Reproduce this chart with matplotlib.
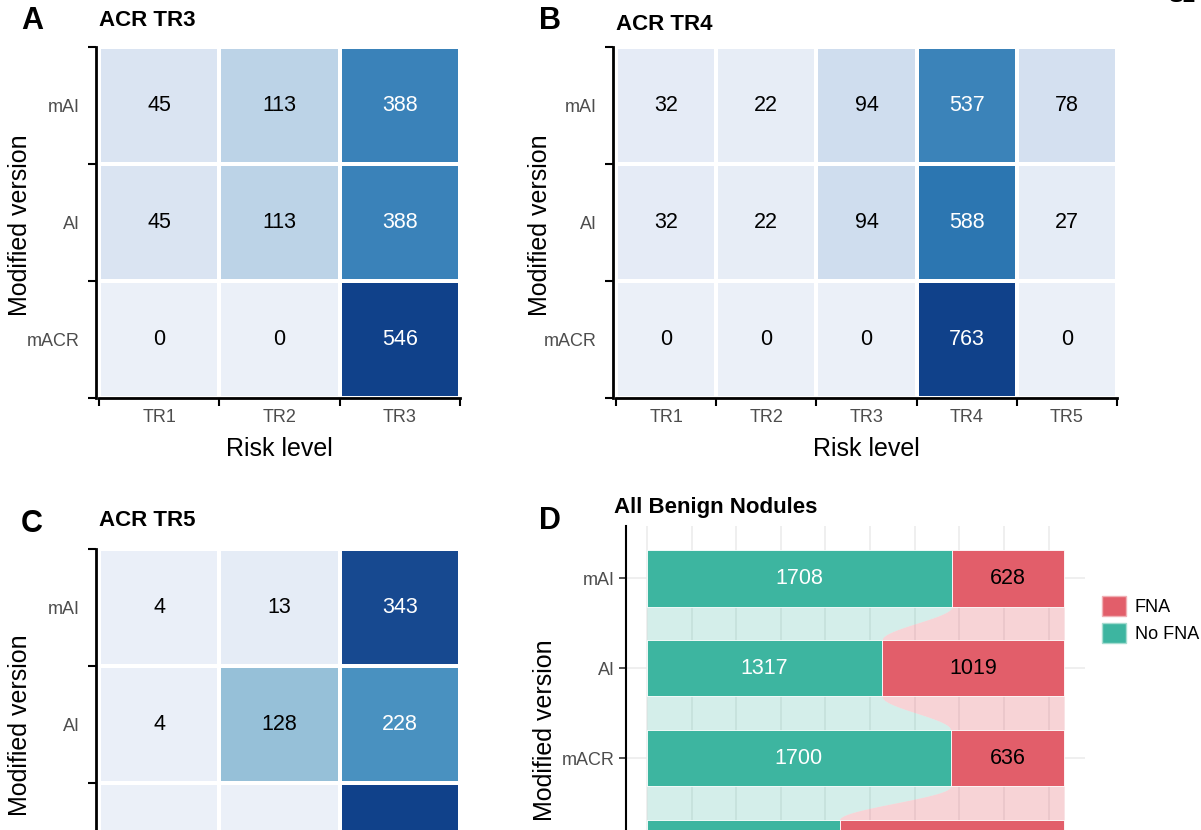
import numpy as np
import matplotlib
matplotlib.use("Agg")
import matplotlib.pyplot as plt
from matplotlib.colors import LinearSegmentedColormap, Normalize
from matplotlib.patches import Patch

plt.rcParams['font.family'] = ['Liberation Sans', 'DejaVu Sans']

# ---------------- data ----------------
versions = ['mAI', 'AI', 'mACR']
tr3_levels = ['TR1', 'TR2', 'TR3']
tr3_values = [[45, 113, 388],
              [45, 113, 388],
              [0, 0, 546]]
tr4_levels = ['TR1', 'TR2', 'TR3', 'TR4', 'TR5']
tr4_values = [[32, 22, 94, 537, 78],
              [32, 22, 94, 588, 27],
              [0, 0, 0, 763, 0]]
tr5_levels = ['TR3', 'TR4', 'TR5']
tr5_values = [[4, 13, 343],
              [4, 128, 228],
              [0, 0, 360]]

benign_versions = ['mAI', 'AI', 'mACR', 'ACR']
benign_no_fna = [1708, 1317, 1700, 1079]
benign_fna = [628, 1019, 636, 1257]

# ---------------- styles ----------------
W, H = 1201, 830
fig = plt.figure(figsize=(W / 100, H / 100), dpi=100)

cmap = LinearSegmentedColormap.from_list('heat', [
    (0.00, '#EBF0F8'), (0.05, '#E3EAF5'), (0.12, '#CFDDEE'), (0.21, '#BBD2E6'),
    (0.36, '#95C0D8'), (0.63, '#4A92C0'), (0.71, '#3A82B9'), (0.77, '#2C77B1'),
    (0.93, '#1B4D93'), (1.00, '#10418A')])

GRAY = '#4D4D4D'


def px_axes(left, top, right, bottom):
    return fig.add_axes([left / W, 1 - bottom / H, (right - left) / W, (bottom - top) / H])


def fig_text(x, y, s, **kw):
    return fig.text(x / W, 1 - y / H, s, **kw)


def visible(ax, x, y, margin=12):
    # only annotate marks whose centre lies inside the figure (the figure is cropped)
    return ax.transData.transform((x, y))[1] > margin


def heatmap(ax, values, levels, xaxis_visible=True):
    v = np.array(values, dtype=float)
    nr, nc = v.shape
    norm = Normalize(0, v.max())
    ax.pcolormesh(np.arange(nc + 1), np.arange(nr + 1), v, cmap=cmap, norm=norm,
                  edgecolor='white', linewidth=1.5)
    ax.set_xlim(0, nc)
    ax.set_ylim(nr, 0)
    for i in range(nr):
        for j in range(nc):
            if not visible(ax, j + 0.5, i + 0.5):
                continue
            frac = norm(v[i, j])
            ax.text(j + 0.5, i + 0.5, f"{int(v[i, j])}", ha='center', va='center',
                    fontsize=15.5, color='white' if frac > 0.5 else 'black')
    for s in ['top', 'right']:
        ax.spines[s].set_visible(False)
    ax.spines['left'].set_linewidth(2)
    ax.spines['bottom'].set_linewidth(2)
    ax.spines['left'].set_position(('outward', 2))
    ax.set_yticks(np.arange(nr + 1))
    ax.set_yticklabels([])
    ax.set_yticks(np.arange(nr) + 0.5, minor=True)
    ax.set_yticklabels(versions, minor=True, fontsize=13, color=GRAY)
    ax.tick_params(axis='y', which='major', length=6, width=1.5, color='black')
    ax.tick_params(axis='y', which='minor', length=0, pad=12)
    ax.set_xticks(np.arange(nc + 1))
    ax.set_xticklabels([])
    ax.tick_params(axis='x', which='major', length=6, width=1.5, color='black')
    if xaxis_visible:
        ax.set_xticks(np.arange(nc) + 0.5, minor=True)
        ax.set_xticklabels(levels, minor=True, fontsize=13, color=GRAY)
        ax.tick_params(axis='x', which='minor', length=0, pad=8)
        ax.set_xlabel('Risk level', fontsize=18, labelpad=8)


# Panel A
axA = px_axes(99, 47, 460, 398)
heatmap(axA, tr3_values, tr3_levels)
# Panel B
axB = px_axes(616, 47, 1117, 398)
heatmap(axB, tr4_values, tr4_levels)
# Panel C (extends below the figure; its x axis falls outside the picture)
axC = px_axes(99, 549, 460, 900)
heatmap(axC, tr5_values, tr5_levels, xaxis_visible=False)

# Panel D: alluvial-style stacked bars
TEAL = '#3DB5A0'
RED = '#E25E6A'
axD = px_axes(626, 526, 1085, 902)
total = np.array(benign_no_fna) + np.array(benign_fna)
tmax = total.max()
axD.set_xlim(-0.05 * tmax, 1.05 * tmax)
n = len(benign_versions)
ys = np.arange(n)
axD.set_ylim(n - 0.4, -0.58)
bh = 0.63
for gx in np.arange(0, tmax, 250):
    axD.axvline(gx, color='#EBEBEB', lw=1.1, zorder=0)
for y in ys:
    axD.axhline(y, color='#EBEBEB', lw=1.1, zorder=0)
for i in range(n - 1):
    y0 = ys[i] + bh / 2
    y1 = ys[i + 1] - bh / 2
    yy = np.linspace(y0, y1, 100)
    t = (yy - y0) / (y1 - y0)
    s = 3 * t ** 2 - 2 * t ** 3
    bx = benign_no_fna[i] + (benign_no_fna[i + 1] - benign_no_fna[i]) * s
    axD.fill_betweenx(yy, 0, bx, color=TEAL, alpha=0.22, lw=0, zorder=1)
    axD.fill_betweenx(yy, bx, total[i], color=RED, alpha=0.27, lw=0, zorder=1)
axD.barh(ys, benign_no_fna, height=bh, color=TEAL, edgecolor='white', lw=0.6, zorder=2)
axD.barh(ys, benign_fna, left=benign_no_fna, height=bh, color=RED, edgecolor='white', lw=0.6, zorder=2)
for i in range(n):
    if not visible(axD, 0, ys[i]):
        continue
    axD.text(benign_no_fna[i] / 2, ys[i], f"{benign_no_fna[i]}", ha='center', va='center',
             fontsize=15.5, color='white', zorder=3)
    axD.text(benign_no_fna[i] + benign_fna[i] / 2, ys[i], f"{benign_fna[i]}", ha='center',
             va='center', fontsize=15.5, color='black', zorder=3)
for s in ['top', 'right', 'bottom']:
    axD.spines[s].set_visible(False)
axD.spines['left'].set_linewidth(1.5)
axD.set_xticks([])
vis_rows = [i for i in range(n) if visible(axD, 0, ys[i])]
axD.set_yticks(ys[vis_rows])
axD.set_yticklabels([benign_versions[i] for i in vis_rows], fontsize=13, color=GRAY)
axD.tick_params(axis='y', length=5, width=1.2, color='#333333', pad=3)
axD.set_axisbelow(True)

fig.legend(handles=[Patch(facecolor=RED, edgecolor='#F0B0B5', label='FNA'),
                    Patch(facecolor=TEAL, edgecolor='#A5DCD0', label='No FNA')],
           loc='upper left', bbox_to_anchor=(1086 / W, 1 - 580 / H), frameon=False,
           fontsize=13, handlelength=1.3, handleheight=1.3, handletextpad=0.5,
           labelspacing=0.4)

# y-axis titles
for lx, ly in [(20, 225), (540, 225), (20, 725), (545, 730)]:
    fig_text(lx, ly, 'Modified version', fontsize=18, rotation=90, ha='center', va='center')

# Panel letters and titles
for lx, ly, letter in [(21, 21, 'A'), (539, 21, 'B'), (21, 524, 'C'), (539, 521, 'D')]:
    fig_text(lx, ly, letter, fontsize=22, fontweight='bold', va='center', ha='left')
for tx, ty, title in [(99, 21, 'ACR TR3'), (616, 24, 'ACR TR4'), (99, 521, 'ACR TR5'),
                      (614, 507, 'All Benign Nodules')]:
    fig_text(tx, ty, title, fontsize=16, fontweight='bold', va='center', ha='left')

fig_text(1168, -4, 'S2', fontsize=16, fontweight='bold', va='center', ha='left')

fig.savefig('out.png', dpi=100)
